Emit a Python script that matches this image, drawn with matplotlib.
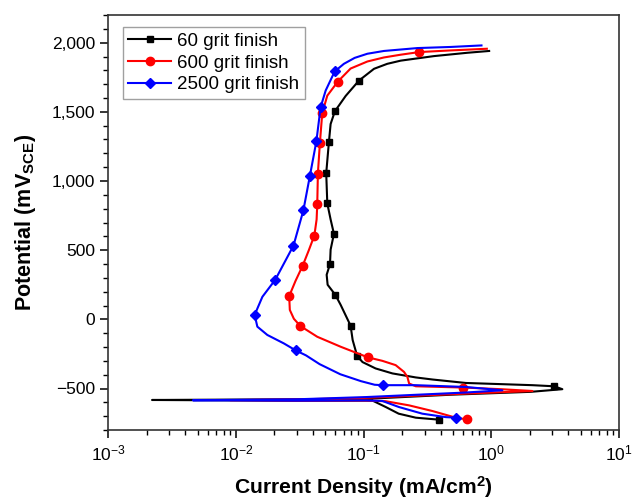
import matplotlib
matplotlib.use("Agg")
import matplotlib.pyplot as plt
from matplotlib.lines import Line2D
from matplotlib.ticker import FuncFormatter, MultipleLocator

plt.rcParams['font.family'] = ['Liberation Sans', 'DejaVu Sans']
plt.rcParams['mathtext.fontset'] = 'custom'
plt.rcParams['mathtext.rm'] = 'Liberation Sans'
plt.rcParams['mathtext.it'] = 'Liberation Sans:italic'
plt.rcParams['mathtext.bf'] = 'Liberation Sans:bold'

# 60 grit finish (current mA/cm2, potential mV_SCE), in scan order
i_60 = [0.386, 0.256, 0.188, 0.149, 0.117, 0.03, 0.0022, 0.03, 0.104, 0.48, 2.04, 3.6,
        3.11, 2.10, 0.631, 0.346, 0.256, 0.168, 0.124, 0.098, 0.089, 0.082, 0.079, 0.066,
        0.060, 0.0522, 0.0513, 0.0545, 0.0551, 0.0585, 0.0551, 0.0519, 0.0509, 0.0534,
        0.0551, 0.0595, 0.0723, 0.0919, 0.1205, 0.153, 0.195, 0.356, 0.650, 0.961]
e_60 = [-725, -711, -682, -634, -587, -588, -583, -578, -575, -545, -524, -505,
        -484, -476, -460, -435, -420, -391, -355, -309, -266, -150, -46, 105,
        177, 250, 322, 400, 504, 618, 722, 838, 1056, 1279,
        1412, 1504, 1615, 1726, 1811, 1847, 1870, 1903, 1927, 1940]
mi_60 = [0.386, 3.11, 0.0889, 0.079, 0.060, 0.0545, 0.0585, 0.0519, 0.0509, 0.0534, 0.0595, 0.0919]
me_60 = [-725, -484, -266, -46, 177, 400, 618, 838, 1056, 1279, 1504, 1726]

# 600 grit finish
i_600 = [0.650, 0.527, 0.346, 0.227, 0.149, 0.10, 0.03, 0.009, 0.03, 0.10, 0.63, 2.10,
         1.19, 0.601, 0.256, 0.227, 0.220, 0.207, 0.178, 0.140, 0.108, 0.066, 0.0433,
         0.0319, 0.0284, 0.0264, 0.0261, 0.0293, 0.0333, 0.0371, 0.0411, 0.0428, 0.0433,
         0.0438, 0.0454, 0.0474, 0.0519, 0.0628, 0.079, 0.107, 0.144, 0.195, 0.272, 0.481, 0.922]
e_600 = [-724, -711, -663, -622, -592, -587, -589, -584, -579, -568, -537, -518,
         -505, -493, -484, -464, -416, -380, -331, -300, -275, -198, -126,
         -48, 4, 68, 168, 279, 388, 497, 606, 722, 831,
         1054, 1274, 1492, 1617, 1719, 1813, 1864, 1893, 1913, 1932, 1944, 1956]
mi_600 = [0.650, 0.601, 0.108, 0.0319, 0.0261, 0.0333, 0.0411, 0.0433, 0.0438, 0.0454, 0.0474, 0.0628, 0.272]
me_600 = [-724, -493, -275, -48, 168, 388, 606, 831, 1054, 1274, 1492, 1719, 1932]

# 2500 grit finish
i_2500 = [0.533, 0.44, 0.288, 0.189, 0.140, 0.104, 0.03, 0.0046, 0.03, 0.104, 0.63, 1.22,
          0.631, 0.256, 0.141, 0.122, 0.0953, 0.0656, 0.0452, 0.0354, 0.0293, 0.0237,
          0.0176, 0.0147, 0.0140, 0.0161, 0.0203, 0.0282, 0.0337, 0.0379, 0.0426, 0.0460,
          0.0504, 0.0593, 0.070, 0.085, 0.107, 0.144, 0.264, 0.481, 0.837]
e_2500 = [-711, -707, -682, -634, -590, -586, -588, -585, -578, -562, -529, -513,
          -489, -476, -476, -473, -447, -397, -324, -261, -224, -174,
          -113, -53, 32, 163, 286, 533, 787, 1036, 1286, 1533,
          1654, 1792, 1847, 1890, 1920, 1940, 1961, 1969, 1980]
mi_2500 = [0.533, 0.141, 0.0293, 0.0140, 0.0203, 0.0282, 0.0337, 0.0379, 0.0426, 0.0460, 0.0593]
me_2500 = [-711, -476, -224, 32, 286, 533, 787, 1036, 1286, 1533, 1792]

labels = ['60 grit finish', '600 grit finish', '2500 grit finish']

fig = plt.figure(figsize=(6.36, 5.0), dpi=100)
ax = fig.add_axes([0.1703, 0.14, 0.8030, 0.83])

series = [
    (i_60, e_60, mi_60, me_60, 'black', 's', 5),
    (i_600, e_600, mi_600, me_600, '#ff0000', 'o', 6),
    (i_2500, e_2500, mi_2500, me_2500, '#0000ff', 'D', 5.5),
]
handles = []
for (xi, ye, mx, my, col, mk, ms), lab in zip(series, labels):
    ax.plot(xi, ye, color=col, lw=1.5)
    ax.plot(mx, my, ls='none', marker=mk, ms=ms, color=col)
    handles.append(Line2D([], [], color=col, lw=1.5, marker=mk, ms=ms))

ax.set_xscale('log')
ax.set_xlim(1e-3, 1e1)
ax.set_ylim(-800, 2200)
ax.yaxis.set_major_locator(MultipleLocator(500))
ax.yaxis.set_minor_locator(MultipleLocator(100))
ax.yaxis.set_major_formatter(FuncFormatter(lambda v, p: f'{int(v):,}'.replace('-', '\u2212')))

ax.tick_params(which='major', direction='out', length=6, width=1.1, labelsize=12.5)
ax.tick_params(which='minor', direction='out', length=3.5, width=1.0)
for s in ax.spines.values():
    s.set_linewidth(1.2)
    s.set_color('#333333')

ax.set_xlabel(r'Current Density (mA/cm$^\mathbf{2}$)', fontsize=15.2, fontweight='bold', labelpad=8)
ax.set_ylabel(r'Potential (mV$_\mathbf{SCE}$)', fontsize=15.5, fontweight='bold', labelpad=10)

leg = ax.legend(handles, labels, loc='upper left', bbox_to_anchor=(0.028, 0.971),
                fontsize=13.5, frameon=True, fancybox=False, edgecolor='#888888',
                handlelength=2.3, handletextpad=0.3, labelspacing=0.25, borderpad=0.3,
                borderaxespad=0.0)
leg.get_frame().set_linewidth(1.0)

fig.savefig('out.png', dpi=100)
